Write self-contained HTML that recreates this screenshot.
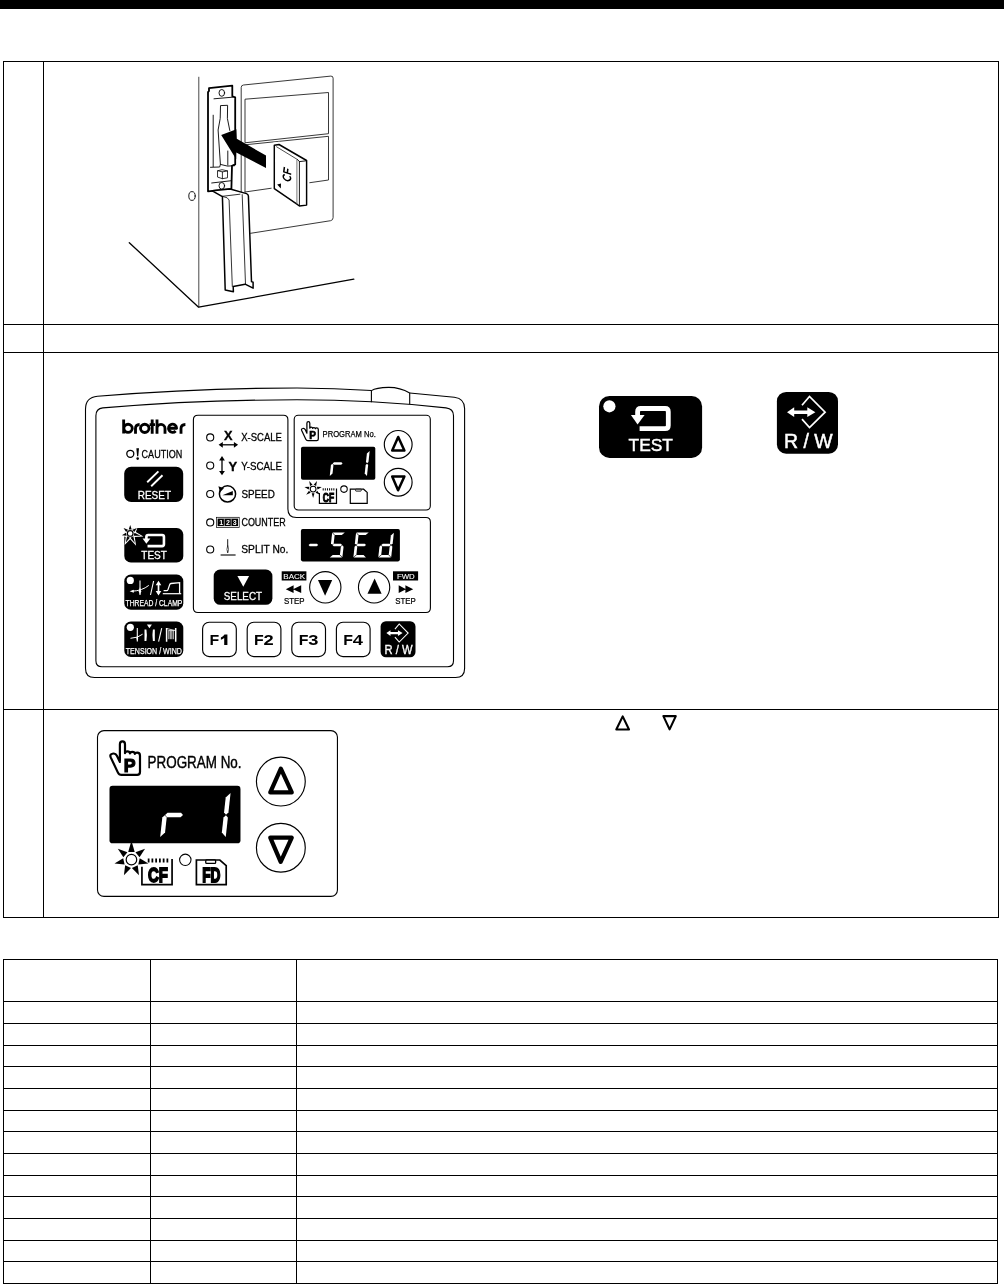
<!DOCTYPE html>
<html><head><meta charset="utf-8">
<style>
html,body{margin:0;padding:0;background:#fff;}
body{width:1004px;height:1284px;position:relative;overflow:hidden;font-family:"Liberation Sans",sans-serif;}
.l{position:absolute;background:#000;}
svg{position:absolute;left:0;top:0;will-change:transform;}
svg text{font-family:"Liberation Sans",sans-serif;}
</style></head><body>
<!-- header bar -->
<div class="l" style="left:0;top:0;width:1004px;height:8.6px"></div>
<!-- table 1 -->
<div class="l" style="left:3px;top:61px;width:996px;height:1px"></div>
<div class="l" style="left:3px;top:324px;width:996px;height:1px"></div>
<div class="l" style="left:3px;top:352px;width:996px;height:1px"></div>
<div class="l" style="left:3px;top:709px;width:996px;height:1px"></div>
<div class="l" style="left:3px;top:917px;width:996px;height:1px"></div>
<div class="l" style="left:3px;top:61px;width:1px;height:857px"></div>
<div class="l" style="left:43px;top:61px;width:1px;height:857px"></div>
<div class="l" style="left:998px;top:61px;width:1px;height:857px"></div>
<!-- table 2 -->
<div class="l" style="left:3px;top:959px;width:1px;height:325px"></div>
<div class="l" style="left:150px;top:959px;width:1px;height:325px"></div>
<div class="l" style="left:296px;top:959px;width:1px;height:325px"></div>
<div class="l" style="left:997px;top:959px;width:1px;height:325px"></div>
<div class="l" style="left:3px;top:959px;width:995px;height:1px"></div>
<div class="l" style="left:3px;top:1001px;width:995px;height:1px"></div>
<div class="l" style="left:3px;top:1023px;width:995px;height:1px"></div>
<div class="l" style="left:3px;top:1045px;width:995px;height:1px"></div>
<div class="l" style="left:3px;top:1066px;width:995px;height:1px"></div>
<div class="l" style="left:3px;top:1088px;width:995px;height:1px"></div>
<div class="l" style="left:3px;top:1110px;width:995px;height:1px"></div>
<div class="l" style="left:3px;top:1131px;width:995px;height:1px"></div>
<div class="l" style="left:3px;top:1153px;width:995px;height:1px"></div>
<div class="l" style="left:3px;top:1175px;width:995px;height:1px"></div>
<div class="l" style="left:3px;top:1196px;width:995px;height:1px"></div>
<div class="l" style="left:3px;top:1218px;width:995px;height:1px"></div>
<div class="l" style="left:3px;top:1240px;width:995px;height:1px"></div>
<div class="l" style="left:3px;top:1261px;width:995px;height:1px"></div>
<div class="l" style="left:3px;top:1283px;width:995px;height:1px"></div>
<svg width="1004" height="1284" viewBox="0 0 1004 1284">
<!--ILLUS1-->
<g id="illus1" fill="none" stroke="#000" stroke-width="1" stroke-linejoin="round" stroke-linecap="round">
<!-- tall vertical edge -->
<path d="M198.8 77.2 V307" stroke-width="0.9" stroke="#333"/>
<!-- floor -->
<path d="M129.3 242.7 L198.6 307.2 L353.8 279.1" stroke-width="1.3"/>
<!-- small ellipse -->
<ellipse cx="192" cy="196" rx="3.2" ry="4.4" stroke-width="0.9"/>
<!-- outer panel -->
<path d="M241.2 193 V87.5 Q241.2 85.2 243.5 85 L330.8 76.1 Q333.1 75.9 333.1 78.2 V217.6 Q333.1 220.2 330.6 220.7 L250.6 233.3" stroke-width="0.9" stroke="#222"/>
<!-- inner rect 1 -->
<path d="M245 142.4 V99.2 L328.5 92.5 V133.3 Z" stroke-width="0.9" stroke="#222"/>
<!-- inner rect 2 -->
<path d="M245 192 V144.8 L328.5 136.3 V180 L245 192" stroke-width="0.9" stroke="#222"/>
<!-- bracket -->
<path d="M209 88.2 L232.3 85.6 V96.3 L235.2 97.3 V164.4 L232 165.8 L231.4 189 L208 191.3 V92.2 L209 91 Z" fill="#fff" stroke-width="1.8"/>
<ellipse cx="221.8" cy="92.9" rx="2.8" ry="3.4" stroke-width="0.9"/>
<path d="M214 98.8 L232.4 97.2" stroke-width="0.9"/>
<!-- slot -->
<path d="M220.4 164.4 L218.1 130 L220.2 118.5 L220.5 105.6 L227.6 105.3 L227.4 118.5 L229.8 130.5" stroke-width="0.9"/>
<path d="M227.8 151 V165.2" stroke-width="0.9"/>
<path d="M213.2 115.2 V166.6" stroke-width="0.9"/>
<path d="M210.5 167.3 L219.7 167 L220.4 164.4 L227.5 166.1 L234.6 165.7" stroke-width="0.9"/>
<!-- small cube -->
<path d="M217.9 170.7 L222.1 169.7 L227.5 170.9 V177.8 L222.4 178.7 L217.9 177.2 Z M217.9 170.7 L222.4 171.9 L227.5 170.9 M222.4 171.9 V178.7" stroke-width="0.8"/>
<path d="M211.7 183 L231.4 180.7" stroke-width="0.9"/>
<ellipse cx="221.8" cy="185.8" rx="2.8" ry="3.3" stroke-width="0.9"/>
<!-- arrow -->
<path d="M221.2 135.1 L236.4 129.3 L236.8 138.8 L266 155.5 V168 L236.3 152.6 L236.2 159.2 Z" fill="#000" stroke="none"/>
<!-- CF card -->
<path d="M274.3 145.2 L279 144.5 L306.6 160.5 V205.1 L299.4 206 L296.2 203.7 L274.3 188.7 Z" fill="#fff" stroke="#fff" stroke-width="5.5"/>
<path d="M274.3 145.2 L279 144.5 L306.6 160.5 V205.1 L299.4 206 L296.2 203.7 L274.3 188.7 Z" fill="#fff" stroke-width="1.45"/>
<path d="M276.6 146.8 L297.4 159.5" stroke-width="0.7"/>
<path d="M296.9 160 V203.8" stroke-width="0.8" stroke="#555"/>
<path d="M299.4 161.6 V205.6 M297.6 159.6 L299.4 161.6 L306.4 160.8" stroke-width="0.9"/>
<g transform="matrix(0.12,-0.93,0.95,0.31,290.2,182)" stroke-width="1.55" stroke-linecap="butt" stroke-linejoin="miter">
<path d="M5.9 -6.5 A3.1 3.9 0 1 0 5.9 -1.3"/>
<path d="M8.3 0 V-7.8 H13.6 M8.3 -4.1 H12.8"/>
</g>
<path d="M277.2 184.4 L281 183.5 L280.8 188.4 Z" fill="#000" stroke="none"/>
<!-- lid -->
<path d="M212.3 190.8 L230.2 189 L246.5 193.6 Q248.3 194.2 248.4 196 L251.5 281.6 L253.1 282.2 V288.2 L245.1 284.2 L233.2 286.4 L233.4 291.7 L225.2 290 L222.4 196.6 Z" fill="#fff" stroke-width="1.5"/>
<path d="M222.4 196.3 L240 194.2 M222.6 196.4 Q228.6 197.4 229.1 200 L232.3 286.4 M242.2 194.6 L245.5 284" stroke-width="0.8"/>
</g>

<!--PANEL-->
<g id="panel"><path d="M371.4 390.55 Q334 388 297 388 Q197 388 97.5 396.3 Q85.5 397.3 85.5 409.3 V668.5 Q85.5 677.5 94.5 677.5 H455.6 Q464.6 677.5 464.6 668.5 V408.6 Q464.6 398.4 454.3 397.2 L409.7 393" fill="none" stroke="#000" stroke-width="1.1"/><path d="M371.4 402.3 V390.6 Q376 387.6 388.5 387.4 Q400 387.3 409.7 393 V404.3" fill="none" stroke="#000" stroke-width="1.1"/><path d="M95.9 660.8 V415.7 Q95.9 408.7 102.8 407.9 Q197 399.8 297 399.8 Q372 399.8 446 407.9 Q453.5 408.8 453.5 415.7 V660.8 Q453.5 666.8 447.5 666.8 H101.9 Q95.9 666.8 95.9 660.8 Z" fill="none" stroke="#000" stroke-width="1.1"/><path d="M198 415.3 H283.4 Q287.9 415.3 287.9 419.8 V509 Q287.9 517.5 296.4 517.5 H426 Q430.4 517.5 430.4 522 V608 Q430.4 612.5 426 612.5 H198 Q193.4 612.5 193.4 608 V419.8 Q193.4 415.3 198 415.3 Z" fill="none" stroke="#000" stroke-width="1.1"/><path d="M123.65 419.4 V433.6 M123.85 428.35 A4.2 4.1 0 1 1 132.25 428.35 A4.2 4.1 0 1 1 123.85 428.35 M135.5 433.75 V428.6 Q135.5 424.6 139.6 424.5 M140.5 428.35 A4.25 4.1 0 1 1 149 428.35 A4.25 4.1 0 1 1 140.5 428.35 M152.2 419.4 V433.75 M149.6 424.6 H155 M157 419.4 V433.75 M157 428.6 A4 4.2 0 0 1 165 428.6 V433.75 M168.6 428.2 H176.6 A4.05 4.1 0 1 0 175.6 431 M181 433.75 V428.6 Q181 424.6 185.4 424.5" fill="none" stroke="#000" stroke-width="2.85" stroke-linecap="butt" stroke-linejoin="round"/><circle cx="130.3" cy="453.8" r="3.5" fill="#fff" stroke="#000" stroke-width="1.3"/><path d="M136.35 448.3 H139 L138.25 456.3 H137.1 Z" fill="#000"/><circle cx="137.68" cy="458.6" r="1.3" fill="#000"/><text x="141.6" y="457.5" font-size="10" font-weight="normal" fill="#000" text-anchor="start" textLength="40.6" lengthAdjust="spacingAndGlyphs" stroke="#000" stroke-width="0.27" >CAUTION</text><rect x="124.2" y="466.7" width="59" height="35.3" rx="7" fill="#000"/><path d="M147.2 482.3 L158.4 471.4 M151.2 486.2 L162.5 475.2" stroke="#fff" stroke-width="1.9" fill="none"/><text x="137.8" y="498.9" font-size="10.4" font-weight="normal" fill="#fff" text-anchor="start" textLength="33.2" lengthAdjust="spacingAndGlyphs" stroke="#fff" stroke-width="0.28" >RESET</text><rect x="124.3" y="528" width="59" height="34.5" rx="6.6" fill="#000"/><path d="M146.38 539.1 V536.71 Q146.38 534.94 148.21 534.94 H162.11 Q163.94 534.94 163.94 536.71 V544.32 Q163.94 546.09 162.11 546.09 H147.52" fill="none" stroke="#fff" stroke-width="2.6" stroke-linejoin="round"/><path d="M142.55 538.6 L150.38 538.6 L146.38 543.76 Z" fill="#fff"/><text x="141.3" y="558.9" font-size="10.2" font-weight="normal" fill="#fff" text-anchor="start" textLength="25.5" lengthAdjust="spacingAndGlyphs" stroke="#fff" stroke-width="0.27" >TEST</text><polygon points="130.2,524 127.68,528.17 122.85,527.54 124.55,532.11 121.04,535.49 125.67,537.02 124.65,544.93 130.2,539.2 136.1,545.65 134.73,537.02 143.46,536.43 135.85,532.11 137.55,527.54 132.72,528.17" fill="#fff"/><polygon points="131.7,529.4 128.7,529.4 130.2,524.9" fill="#000"/><polygon points="128.01,529.73 126.14,532.08 123.55,528.1" fill="#000"/><polygon points="125.97,532.83 126.63,535.75 121.91,535.29" fill="#000"/><polygon points="127.11,536.35 129.82,537.65 125.77,542.59" fill="#000"/><polygon points="130.58,537.65 133.29,536.35 134.84,543.04" fill="#000"/><polygon points="133.77,535.75 134.43,532.83 140.63,535.78" fill="#000"/><polygon points="134.26,532.08 132.39,529.73 136.85,528.1" fill="#000"/><circle cx="130.2" cy="533.4" r="2.85" fill="#fff" stroke="#000" stroke-width="1.2"/><rect x="124.3" y="574.6" width="59" height="35.2" rx="6.6" fill="#000"/><circle cx="130.3" cy="580.4" r="3.6" fill="#fff"/><path d="M140 580.6 V595" fill="none" stroke="#fff" stroke-width="1.1"/><path d="M140 587 L141.2 591.3 L140 594.8 L138.8 591.3 Z" fill="#fff"/><path d="M132 591.2 Q142 590.8 148.8 585.4" fill="none" stroke="#fff" stroke-width="1.0"/><path d="M129.6 591.2 L133.8 589.7 V592.7 Z" fill="#fff"/><path d="M150.5 595 L153.6 581" fill="none" stroke="#fff" stroke-width="1.1"/><path d="M158.5 583 V593.5" fill="none" stroke="#fff" stroke-width="1.7"/><path d="M158.5 580.8 L161.3 585.3 H155.7 Z M158.5 595.6 L161.3 591.1 H155.7 Z" fill="#fff"/><path d="M162.8 593.7 H181.2" fill="none" stroke="#fff" stroke-width="1.2"/><path d="M163.6 590.7 H166.6 Q167.6 590.7 168 589.6 L169.7 584.6 Q170 583.6 171 583.5 L179.6 582.7 V593.6" fill="none" stroke="#fff" stroke-width="1.3"/><text x="125.5" y="606.4" font-size="9" font-weight="normal" fill="#fff" text-anchor="start" textLength="56.8" lengthAdjust="spacingAndGlyphs" stroke="#fff" stroke-width="0.25" >THREAD / CLAMP</text><rect x="124.3" y="621.5" width="59" height="35.5" rx="6.6" fill="#000"/><circle cx="130.3" cy="627.3" r="3.6" fill="#fff"/><path d="M137.3 628.1 V641.6" fill="none" stroke="#fff" stroke-width="1.1"/><path d="M137.3 635 L138.1 638.5 L137.3 641.4 L136.5 638.5 Z" fill="#fff"/><path d="M130.5 638.3 Q138 638 142.6 634.2" fill="none" stroke="#fff" stroke-width="1.0"/><path d="M144.5 629.6 H146.4 Q147.4 635.2 146.4 640.9 H144.5 Z" fill="#fff"/><path d="M154.8 629.6 H152.9 Q151.9 635.2 152.9 640.9 H154.8 Z" fill="#fff"/><path d="M146.9 624.5 H151.9 L149.4 628.2 Z" fill="#fff"/><path d="M158.6 641.7 L161.7 628.2" fill="none" stroke="#fff" stroke-width="1.1"/><path d="M166.6 628.1 V641.7 M175.7 628.1 V641.7" fill="none" stroke="#fff" stroke-width="1.5"/><path d="M167 628.6 L175.5 630.6 M168.3 630.6 H174.2" fill="none" stroke="#fff" stroke-width="0.8"/><path d="M168.8 630.6 V639.2 M170.3 630.6 V639.2 M171.8 630.6 V639.2 M173.3 630.6 V639.2" fill="none" stroke="#fff" stroke-width="0.8"/><text x="125.8" y="653.9" font-size="9" font-weight="normal" fill="#fff" text-anchor="start" textLength="56.1" lengthAdjust="spacingAndGlyphs" stroke="#fff" stroke-width="0.25" >TENSION / WIND</text><circle cx="210.2" cy="437.4" r="3.55" fill="#fff" stroke="#000" stroke-width="1.1"/><circle cx="210.2" cy="465.6" r="3.55" fill="#fff" stroke="#000" stroke-width="1.1"/><circle cx="210.2" cy="494" r="3.55" fill="#fff" stroke="#000" stroke-width="1.1"/><circle cx="210.2" cy="522.4" r="3.55" fill="#fff" stroke="#000" stroke-width="1.1"/><circle cx="210.2" cy="549.5" r="3.55" fill="#fff" stroke="#000" stroke-width="1.1"/><text x="224" y="439.7" font-size="13.1" font-weight="bold" fill="#000" text-anchor="start" textLength="8.5" lengthAdjust="spacingAndGlyphs" stroke="#000" stroke-width="0.34" >X</text><path d="M222 444.8 H234.6" stroke="#000" stroke-width="1.3" fill="none"/><path d="M218.6 444.8 L222.8 441.9 V447.7 Z M238.1 444.8 L233.9 441.9 V447.7 Z" fill="#000"/><text x="241.2" y="441.3" font-size="10.3" font-weight="normal" fill="#000" text-anchor="start" textLength="40.8" lengthAdjust="spacingAndGlyphs" stroke="#000" stroke-width="0.28" >X-SCALE</text><path d="M222 459.5 V471.8" stroke="#000" stroke-width="1.3" fill="none"/><path d="M222 456 L224.9 460.4 H219.1 Z M222 475.3 L224.9 470.9 H219.1 Z" fill="#000"/><text x="228.6" y="471.1" font-size="13.6" font-weight="bold" fill="#000" text-anchor="start" textLength="8.7" lengthAdjust="spacingAndGlyphs" stroke="#000" stroke-width="0.35" >Y</text><text x="241.2" y="469.5" font-size="10.3" font-weight="normal" fill="#000" text-anchor="start" textLength="40.8" lengthAdjust="spacingAndGlyphs" stroke="#000" stroke-width="0.28" >Y-SCALE</text><circle cx="227.5" cy="493.9" r="8.1" fill="none" stroke="#000" stroke-width="1.5"/><path d="M222.4 495.2 L232.8 491 V495.2 Z" fill="#000"/><path d="M218.4 486.3 L223.9 488.3 L220 492.3 Z" fill="#000"/><text x="241.4" y="498" font-size="10.3" font-weight="normal" fill="#000" text-anchor="start" textLength="33.4" lengthAdjust="spacingAndGlyphs" stroke="#000" stroke-width="0.28" >SPEED</text><rect x="216.4" y="517.3" width="22.8" height="10.1" fill="#fff" stroke="#000" stroke-width="0.7"/><rect x="217.6" y="518.6" width="20.4" height="7.5" fill="#000"/><path d="M224.3 518.6 V526.1 M231.2 518.6 V526.1" stroke="#fff" stroke-width="0.6"/><text x="219.2" y="525.2" font-size="7" font-weight="bold" fill="#fff" text-anchor="start" >1</text><text x="225.9" y="525.2" font-size="7" font-weight="bold" fill="#fff" text-anchor="start" >2</text><text x="232.8" y="525.2" font-size="7" font-weight="bold" fill="#fff" text-anchor="start" >3</text><text x="241.4" y="526.4" font-size="10.3" font-weight="normal" fill="#000" text-anchor="start" textLength="44.4" lengthAdjust="spacingAndGlyphs" stroke="#000" stroke-width="0.28" >COUNTER</text><path d="M227.7 539.2 V552.6" stroke="#000" stroke-width="0.9" fill="none"/><path d="M227.7 545.5 L228.5 549.3 L227.7 552.8 L226.9 549.3 Z" fill="#fff" stroke="#000" stroke-width="0.6"/><path d="M220.6 555 H235.6" stroke="#000" stroke-width="1.1"/><text x="241.3" y="553" font-size="10.3" font-weight="normal" fill="#000" text-anchor="start" textLength="47" lengthAdjust="spacingAndGlyphs" stroke="#000" stroke-width="0.28" >SPLIT No.</text><rect x="213.7" y="569.5" width="58.7" height="35.3" rx="6.5" fill="#000"/><path d="M237.4 575.9 H249.1 L243.3 586.7 Z" fill="#fff"/><text x="223.8" y="599.6" font-size="10.4" font-weight="normal" fill="#fff" text-anchor="start" textLength="38.2" lengthAdjust="spacingAndGlyphs" stroke="#fff" stroke-width="0.28" >SELECT</text><rect x="281.7" y="571.3" width="24.7" height="9.2" fill="#000"/><text x="283.3" y="578.8" font-size="7.9" font-weight="normal" fill="#fff" text-anchor="start" textLength="21.8" lengthAdjust="spacingAndGlyphs" stroke="#fff" stroke-width="0.1" >BACK</text><path d="M285.8 589.2 L293.6 585.2 V593.1 Z M293 589.2 L301.2 585.2 V593.1 Z" fill="#000"/><text x="284" y="604.2" font-size="8.3" font-weight="normal" fill="#000" text-anchor="start" textLength="20.6" lengthAdjust="spacingAndGlyphs" stroke="#000" stroke-width="0.23" >STEP</text><rect x="393" y="571.3" width="25.1" height="9.2" fill="#000"/><text x="396.9" y="578.8" font-size="7.9" font-weight="normal" fill="#fff" text-anchor="start" textLength="17.8" lengthAdjust="spacingAndGlyphs" stroke="#fff" stroke-width="0.1" >FWD</text><path d="M413.2 589.2 L405.4 585.2 V593.1 Z M406 589.2 L398.7 585.2 V593.1 Z" fill="#000"/><text x="395.3" y="604.2" font-size="8.3" font-weight="normal" fill="#000" text-anchor="start" textLength="20.5" lengthAdjust="spacingAndGlyphs" stroke="#000" stroke-width="0.23" >STEP</text><circle cx="325.3" cy="587.3" r="15.65" fill="#fff" stroke="#000" stroke-width="1.1"/><path d="M318 580 H332.2 L325.1 595.7 Z" fill="#000"/><circle cx="374.1" cy="587.3" r="15.65" fill="#fff" stroke="#000" stroke-width="1.1"/><path d="M367.5 593.8 H381.6 L374.6 578.6 Z" fill="#000"/><rect x="300.9" y="529.1" width="99" height="32.3" rx="1.8" fill="#000"/><polygon points="308.58,545 310.07,543.65 316.97,543.65 318.18,545 316.68,546.35 309.78,546.35" fill="#fff"/><polygon points="332.5,532.4 344.8,532.4 341.81,535.1 334.91,535.1" fill="#fff"/><polygon points="332.17,532.7 334.57,535.4 333.71,543.35 332.21,544.7 331.01,543.35" fill="#fff"/><polygon points="332.48,545 333.97,543.65 340.87,543.65 342.08,545 340.58,546.35 333.68,546.35" fill="#fff"/><polygon points="342.39,557.3 339.98,554.6 340.85,546.65 342.34,545.3 343.55,546.65" fill="#fff"/><polygon points="329.75,557.6 342.05,557.6 339.65,554.9 332.75,554.9" fill="#fff"/><polygon points="356.4,532.4 368.7,532.4 365.71,535.1 358.81,535.1" fill="#fff"/><polygon points="356.07,532.7 358.47,535.4 357.61,543.35 356.11,544.7 354.91,543.35" fill="#fff"/><polygon points="356.38,545 357.87,543.65 364.77,543.65 365.98,545 364.48,546.35 357.58,546.35" fill="#fff"/><polygon points="353.39,557.3 356.38,554.6 357.25,546.65 356.04,545.3 354.55,546.65" fill="#fff"/><polygon points="353.65,557.6 365.95,557.6 363.55,554.9 356.65,554.9" fill="#fff"/><polygon points="393.87,532.7 390.87,535.4 390.01,543.35 391.21,544.7 392.71,543.35" fill="#fff"/><polygon points="391.19,557.3 388.78,554.6 389.65,546.65 391.14,545.3 392.35,546.65" fill="#fff"/><polygon points="378.55,557.6 390.85,557.6 388.45,554.9 381.55,554.9" fill="#fff"/><polygon points="378.29,557.3 381.28,554.6 382.15,546.65 380.94,545.3 379.45,546.65" fill="#fff"/><polygon points="381.28,545 382.77,543.65 389.67,543.65 390.88,545 389.38,546.35 382.48,546.35" fill="#fff"/><rect x="202.6" y="622.2" width="33.7" height="34.4" rx="6.6" fill="#fff" stroke="#000" stroke-width="1.15"/><text x="209.5" y="644.9" font-size="14.5" font-weight="bold" fill="#000" text-anchor="start" textLength="9.7" lengthAdjust="spacingAndGlyphs" >F</text><path d="M224.5 634.4 H227.4 V644.9 H224.2 V638.1 Q222.8 639.2 220.9 639.8 V637.4 Q223.3 636.5 224.5 634.4 Z" fill="#000"/><rect x="247.2" y="622.2" width="33.7" height="34.4" rx="6.6" fill="#fff" stroke="#000" stroke-width="1.15"/><text x="254.1" y="644.9" font-size="14.5" font-weight="bold" fill="#000" text-anchor="start" textLength="9.7" lengthAdjust="spacingAndGlyphs" >F</text><text x="263.6" y="644.9" font-size="14.5" font-weight="bold" fill="#000" text-anchor="start" textLength="10.2" lengthAdjust="spacingAndGlyphs" >2</text><rect x="291.8" y="622.2" width="33.7" height="34.4" rx="6.6" fill="#fff" stroke="#000" stroke-width="1.15"/><text x="298.7" y="644.9" font-size="14.5" font-weight="bold" fill="#000" text-anchor="start" textLength="9.7" lengthAdjust="spacingAndGlyphs" >F</text><text x="308.2" y="644.9" font-size="14.5" font-weight="bold" fill="#000" text-anchor="start" textLength="10.2" lengthAdjust="spacingAndGlyphs" >3</text><rect x="336.4" y="622.2" width="33.7" height="34.4" rx="6.6" fill="#fff" stroke="#000" stroke-width="1.15"/><text x="343.3" y="644.9" font-size="14.5" font-weight="bold" fill="#000" text-anchor="start" textLength="9.7" lengthAdjust="spacingAndGlyphs" >F</text><text x="352.8" y="644.9" font-size="14.5" font-weight="bold" fill="#000" text-anchor="start" textLength="10.2" lengthAdjust="spacingAndGlyphs" >4</text><rect x="380.6" y="621.3" width="34.9" height="35.9" rx="5.3" fill="#000"/><path d="M394.93 629.03 L399.21 623.97 L408.12 633.09 L399.21 642.04 L394.93 637.1" fill="none" stroke="#fff" stroke-width="1.1" stroke-linejoin="miter"/><path d="M386.37 633.09 L390.48 630.25 L390.48 632.05 L397.96 632.05 L397.96 630.25 L402.58 633.09 L397.96 635.94 L397.96 634.14 L390.48 634.14 L390.48 635.94 Z" fill="#fff"/><text x="384.5" y="654.2" font-size="12.4" font-weight="normal" fill="#fff" text-anchor="start" textLength="28" lengthAdjust="spacingAndGlyphs" stroke="#fff" stroke-width="0.32" >R / W</text><g><rect x="294.2" y="415.3" width="136.1" height="94.7" rx="4" fill="#fff" stroke="#000" stroke-width="1.1"/><path d="M306.9 432.5 V423.2 Q306.9 421.5 308.35 421.5 Q309.8 421.5 309.8 423.2 V428.2 Q309.9 427.2 311.2 427.2 Q312.5 427.2 312.6 428.3 Q312.7 427.5 314 427.5 Q315.3 427.5 315.4 428.6 Q315.5 427.9 316.7 427.9 Q318.3 427.9 318.3 429.6 V439 Q318.3 440.6 316.7 440.6 H307.8 Q306.4 440.6 305.8 439.3 L301.7 430.6 Q301 428.9 302.6 428.5 Q304.4 428 305.2 429.6 L306.9 433.2" fill="#fff" stroke="#000" stroke-width="1.25" stroke-linejoin="round" stroke-linecap="round"/><text x="309.15" y="439" font-size="10.8" font-weight="bold" fill="#000" text-anchor="start" textLength="6.7" lengthAdjust="spacingAndGlyphs" stroke="#000" stroke-width="0.7" >P</text><text x="322.6" y="436.9" font-size="9.1" font-weight="normal" fill="#000" text-anchor="start" textLength="53.3" lengthAdjust="spacingAndGlyphs" stroke="#000" stroke-width="0.25" >PROGRAM No.</text><rect x="301" y="446.8" width="74.3" height="32.9" rx="1.8" fill="#000"/><polygon points="329.76,475.9 332.54,473.4 333.45,465.05 332.33,463.8 330.95,465.05" fill="#fff"/><polygon points="332.67,463.5 334.05,462.25 341.45,462.25 342.57,463.5 341.18,464.75 333.78,464.75" fill="#fff"/><polygon points="369.67,451.1 366.89,453.6 365.98,461.95 367.1,463.2 368.48,461.95" fill="#fff"/><polygon points="366.96,475.9 364.74,473.4 365.65,465.05 367.03,463.8 368.15,465.05" fill="#fff"/><circle cx="398.2" cy="444.4" r="13.9" fill="#fff" stroke="#000" stroke-width="1.15"/><circle cx="398.2" cy="482.2" r="13.9" fill="#fff" stroke="#000" stroke-width="1.15"/><path d="M398.2 437 L404.4 450.6 L392.2 450.6 Z" fill="none" stroke="#000" stroke-width="2.5" stroke-linejoin="round"/><path d="M398.1 490.3 L404.4 476.4 L392.2 476.4 Z" fill="none" stroke="#000" stroke-width="2.5" stroke-linejoin="round"/><polygon points="311.75,493.3 314.45,493.3 313.1,498" fill="#000"/><polygon points="315.54,492.77 317.23,490.66 320.06,494.65" fill="#000"/><polygon points="317.5,489.48 316.89,486.85 321.78,487.12" fill="#000"/><polygon points="316.14,485.9 313.71,484.73 316.96,481.08" fill="#000"/><polygon points="312.49,484.73 310.06,485.9 309.24,481.08" fill="#000"/><polygon points="309.31,486.85 308.7,489.48 304.42,487.12" fill="#000"/><polygon points="308.97,490.66 310.66,492.77 306.14,494.65" fill="#000"/><circle cx="313.1" cy="489.1" r="2.9" fill="#fff" stroke="#000" stroke-width="1.05"/><path d="M319.4 493 V503.3 H336.5 V488.6" fill="none" stroke="#000" stroke-width="1.2"/><path d="M322.7 489.45 H335.4" fill="none" stroke="#000" stroke-width="2.3" stroke-dasharray="1 1.13"/><text x="322.8" y="501.75" font-size="12" font-weight="bold" fill="#000" text-anchor="start" textLength="11.3" lengthAdjust="spacingAndGlyphs" stroke="#000" stroke-width="1" >CF</text><circle cx="344" cy="489.1" r="3.25" fill="#fff" stroke="#000" stroke-width="1.05"/><path d="M350.3 489.2 H363.6 L367.2 492.4 V503.3 H350.3 Z" fill="#fff" stroke="#000" stroke-width="1.2" stroke-linejoin="miter"/><rect x="355.6" y="489.2" width="5.6" height="1.9" rx="0.5" fill="#fff" stroke="#000" stroke-width="0.9"/></g></g>
<!--BIGBTNS-->
<g id="bigbtns"><rect x="599" y="396" width="103.1" height="61.9" rx="10.5" fill="#000"/><circle cx="609.4" cy="406.3" r="6.1" fill="#fff"/><path d="M637.6 416 V411.7 Q637.6 408.5 640.8 408.5 H665.1 Q668.3 408.5 668.3 411.7 V425.4 Q668.3 428.6 665.1 428.6 H639.6" fill="none" stroke="#fff" stroke-width="4.8" stroke-linejoin="round"/><path d="M630.9 415.1 L644.6 415.1 L637.6 424.4 Z" fill="#fff"/><text x="628.6" y="450.7" font-size="16.6" font-weight="normal" fill="#fff" text-anchor="start" textLength="44.4" lengthAdjust="spacingAndGlyphs" stroke="#fff" stroke-width="0.42" >TEST</text><rect x="776.9" y="391.9" width="61.1" height="61.8" rx="9.3" fill="#000"/><path d="M802 405.2 L809.5 396.5 L825.1 412.2 L809.5 427.6 L802 419.1" fill="none" stroke="#fff" stroke-width="1.7" stroke-linejoin="miter"/><path d="M787 412.2 L794.2 407.3 L794.2 410.4 L807.3 410.4 L807.3 407.3 L815.4 412.2 L807.3 417.1 L807.3 414 L794.2 414 L794.2 417.1 Z" fill="#fff"/><text x="784.1" y="448.2" font-size="21" font-weight="normal" fill="#fff" text-anchor="start" textLength="48.6" lengthAdjust="spacingAndGlyphs" stroke="#fff" stroke-width="0.51" >R / W</text><path d="M622.7 716.4 L629 729.5 H616.3 Z" fill="none" stroke="#000" stroke-width="2.1" stroke-linejoin="round"/><path d="M669.6 729.4 L675.8 716.1 H663.4 Z" fill="none" stroke="#000" stroke-width="2.1" stroke-linejoin="round"/></g>
<!--PROGBOX-->
<g><rect x="97.5" y="730.6" width="239.94" height="165.82" rx="6.5" fill="#fff" stroke="#000" stroke-width="1.1"/><path d="M119.89 760.72 V744.43 Q119.89 741.46 122.45 741.46 Q125 741.46 125 744.43 V753.19 Q125.18 751.44 127.47 751.44 Q129.76 751.44 129.94 753.36 Q130.12 751.96 132.41 751.96 Q134.7 751.96 134.88 753.89 Q135.05 752.66 137.17 752.66 Q139.99 752.66 139.99 755.64 V772.1 Q139.99 774.9 137.17 774.9 H121.48 Q119.01 774.9 117.95 772.62 L110.72 757.39 Q109.49 754.41 112.31 753.71 Q115.48 752.84 116.89 755.64 L119.89 761.94" fill="#fff" stroke="#000" stroke-width="2.2" stroke-linejoin="round" stroke-linecap="round"/><text x="123.86" y="772.1" font-size="18.98" font-weight="bold" fill="#000" text-anchor="start" textLength="11.81" lengthAdjust="spacingAndGlyphs" stroke="#000" stroke-width="1.23" >P</text><text x="147.57" y="768.42" font-size="15.99" font-weight="normal" fill="#000" text-anchor="start" textLength="93.97" lengthAdjust="spacingAndGlyphs" stroke="#000" stroke-width="0.4" >PROGRAM No.</text><rect x="109.49" y="785.76" width="130.99" height="57.61" rx="3.16" fill="#000"/><polygon points="160.17,836.94 165.05,832.54 166.7,817.49 164.75,815.3 162.31,817.49" fill="#fff"/><polygon points="165.08,815 167.52,812.8 181.05,812.8 183.01,815 180.57,817.19 167.03,817.19" fill="#fff"/><polygon points="230.57,793.06 225.7,797.45 224.05,812.5 226,814.7 228.44,812.5" fill="#fff"/><polygon points="225.76,836.94 221.85,832.54 223.5,817.49 225.94,815.3 227.89,817.49" fill="#fff"/><circle cx="280.85" cy="781.55" r="24.42" fill="#fff" stroke="#000" stroke-width="1.15"/><circle cx="280.85" cy="847.74" r="24.42" fill="#fff" stroke="#000" stroke-width="1.15"/><path d="M280.85 768.6 L291.78 792.41 L270.27 792.41 Z" fill="none" stroke="#000" stroke-width="4.2" stroke-linejoin="round"/><path d="M280.68 861.92 L291.78 837.59 L270.27 837.59 Z" fill="none" stroke="#000" stroke-width="4.2" stroke-linejoin="round"/><polygon points="134.69,851.92 128.19,851.92 131.44,840.85" fill="#000"/><polygon points="127.42,852.29 123.37,857.37 117.84,848.8" fill="#000"/><polygon points="123.18,858.2 124.62,864.54 114.48,863.52" fill="#000"/><polygon points="125.15,865.2 131.01,868.02 123.89,875.32" fill="#000"/><polygon points="131.86,868.02 137.72,865.2 138.98,875.32" fill="#000"/><polygon points="138.25,864.54 139.7,858.2 148.4,863.52" fill="#000"/><polygon points="139.51,857.37 135.46,852.29 145.04,848.8" fill="#000"/><circle cx="131.44" cy="859.65" r="5.27" fill="#fff" stroke="#000" stroke-width="1.2"/><path d="M141.93 866.65 V884.69 H172.07 V858.95" fill="none" stroke="#000" stroke-width="1.7"/><path d="M147.75 860.44 H170.14" fill="none" stroke="#000" stroke-width="4.03" stroke-dasharray="1.76 1.99"/><text x="147.92" y="881.97" font-size="21.08" font-weight="bold" fill="#000" text-anchor="start" textLength="19.92" lengthAdjust="spacingAndGlyphs" stroke="#000" stroke-width="1.76" >CF</text><circle cx="185.3" cy="859.82" r="5.71" fill="#fff" stroke="#000" stroke-width="1.05"/><path d="M196.4 860 H219.85 L226.2 865.6 V884.69 H196.4 Z" fill="#fff" stroke="#000" stroke-width="1.7" stroke-linejoin="miter"/><rect x="205.75" y="860" width="9.87" height="3.33" rx="0.88" fill="#fff" stroke="#000" stroke-width="1.3"/><text x="202.22" y="881.97" font-size="21.08" font-weight="bold" fill="#000" text-anchor="start" textLength="18.34" lengthAdjust="spacingAndGlyphs" stroke="#000" stroke-width="1.76" >FD</text></g>
<!--END-->
</svg>
</body></html>
